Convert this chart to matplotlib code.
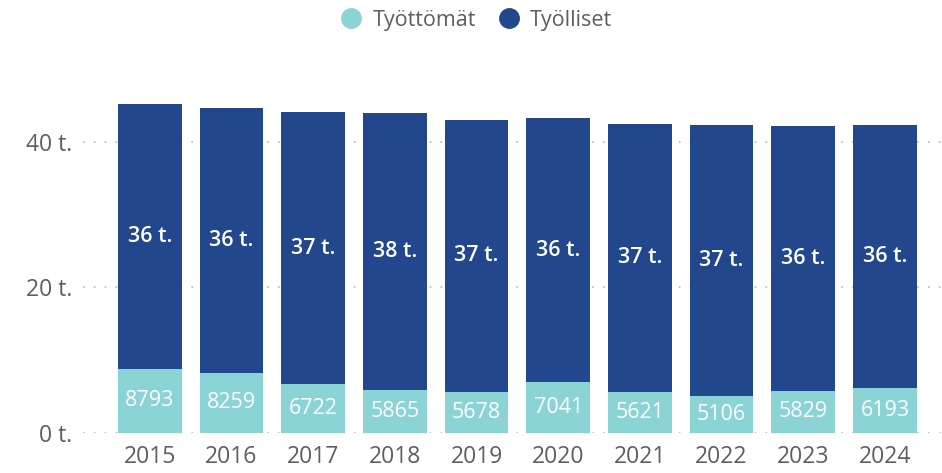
import numpy as np
import matplotlib.pyplot as plt
from matplotlib.lines import Line2D

plt.rcParams['font.family'] = ['Open Sans', 'DejaVu Sans']

years = ['2015', '2016', '2017', '2018', '2019', '2020', '2021', '2022', '2023', '2024']
tyottomat = [8793, 8259, 6722, 5865, 5678, 7041, 5621, 5106, 5829, 6193]
tyolliset = [36400, 36400, 37400, 38100, 37400, 36200, 36900, 37200, 36400, 36100]

c_unemp = '#8AD4D6'
c_emp = '#22478C'

fig = plt.figure(figsize=(9.42, 4.73), dpi=100)
ax = fig.add_axes([0.088, 0.0846, 0.912, 0.723])

x = np.arange(len(years))
u = np.array(tyottomat) / 1000
e = np.array(tyolliset) / 1000
ax.bar(x, u, width=0.78, color=c_unemp, zorder=2)
ax.bar(x, e, width=0.78, bottom=u, color=c_emp, zorder=2)

for i in range(len(years)):
    ax.text(x[i], u[i] / 2, str(tyottomat[i]), ha='center', va='center',
            color='white', fontsize=15.5, zorder=3)
    ax.text(x[i], u[i] + e[i] / 2, '%d t.' % round(e[i]), ha='center', va='center',
            color='white', fontsize=15.5, fontweight='semibold', zorder=3)

ax.set_xlim(-0.82, 9.7)
ax.set_ylim(0, 47)
ax.set_yticks([0, 20, 40])
ax.set_yticklabels(['0 t.', '20 t.', '40 t.'])
ax.set_xticks(x)
ax.set_xticklabels(years)
ax.tick_params(length=0, labelsize=16.5, colors='#605E5C', pad=4)
ax.tick_params(axis='x', pad=9)
ax.tick_params(axis='y', pad=8)
ax.grid(axis='y', linestyle=(0, (1, 5.5)), color='#B8B8B8', linewidth=1.2, zorder=0)
for s in ax.spines.values():
    s.set_visible(False)

handles = [Line2D([], [], marker='o', linestyle='', markersize=14, color=c_unemp),
           Line2D([], [], marker='o', linestyle='', markersize=14, color=c_emp)]
fig.legend(handles, ['Työttömät', 'Työlliset'], loc='upper center', ncol=2,
           bbox_to_anchor=(0.5, 1.02), frameon=False, fontsize=15.5,
           handletextpad=0.0, columnspacing=0.5, labelcolor='#605E5C')

fig.savefig('out.png', dpi=100)
